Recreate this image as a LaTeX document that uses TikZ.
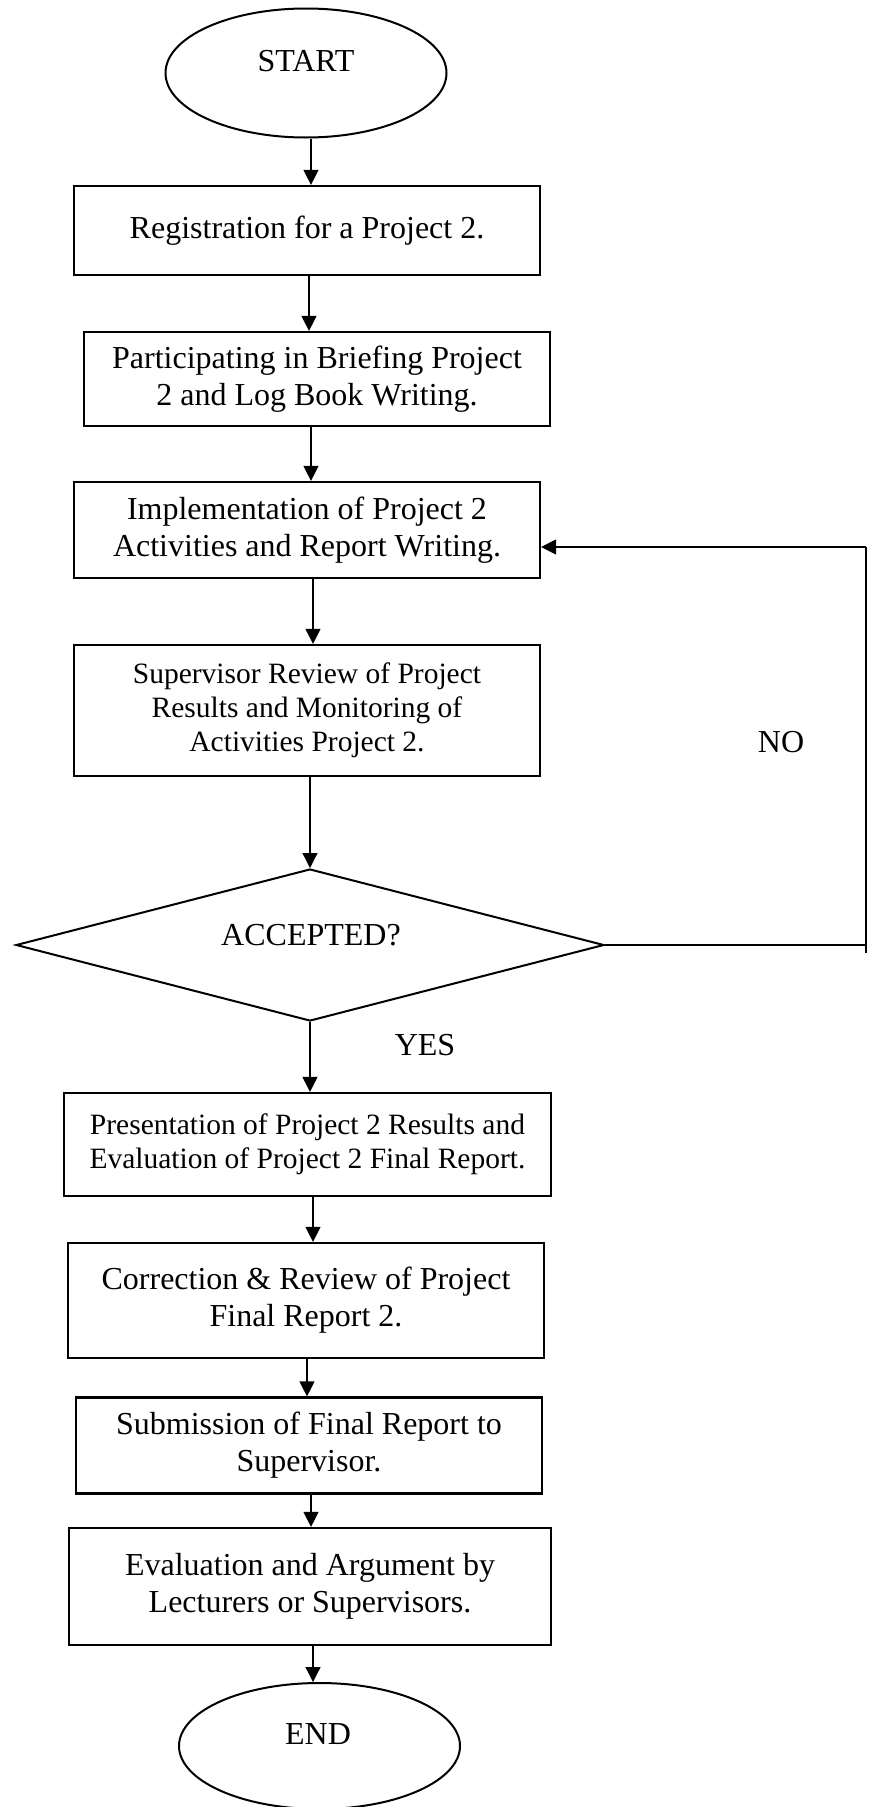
\documentclass[tikz,border=0pt]{standalone}
\usepackage{fontspec}
\setmainfont{Liberation Serif}
\usetikzlibrary{shapes.geometric,arrows.meta}
\begin{document}
\begin{tikzpicture}[x=1pt,y=-1pt,
  box/.style={draw, line width=2.2pt, rectangle, inner sep=0pt, align=center, font=\fontsize{32}{37}\selectfont},
  term/.style={draw, ellipse, line width=2pt, minimum width=281pt, minimum height=129pt, inner sep=0pt},
  decision/.style={draw, diamond, line width=2pt, minimum width=588pt, minimum height=152pt, inner sep=0pt},
  lbl/.style={inner sep=0pt, font=\fontsize{32}{37}\selectfont},
  arr/.style={line width=1.2pt, -{Triangle[length=15pt,width=15pt]}},
  ln/.style={line width=1.2pt}]
\path[use as bounding box, fill=white] (0,0) rectangle (868,1807);

\node[term] (start) at (306,73) {};
\node[lbl] (starttxt) at (306,61) {START};
\node[box, minimum width=466pt, minimum height=89pt] (b1) at (307,230.5) {Registration for a Project 2.};
\node[box, minimum width=466pt, minimum height=94pt] (b2) at (317,379) {Participating in Briefing Project\\2 and Log Book Writing.};
\node[box, minimum width=466pt, minimum height=96pt] (b3) at (307,530) {Implementation of Project 2\\Activities and Report Writing.};
\node[box, minimum width=466pt, minimum height=131pt, font=\fontsize{29.5}{34}\selectfont] (b4) at (307,710.5) {Supervisor Review of Project\\Results and Monitoring of\\Activities Project 2.};
\node[decision] (dia) at (310,945) {};
\node[lbl] (diatxt) at (311,935) {ACCEPTED?};
\node[lbl] (yes) at (425,1045) {YES};
\node[lbl] (no) at (781,742) {NO};
\node[box, minimum width=487pt, minimum height=103pt, font=\fontsize{29.5}{34}\selectfont] (b5) at (307.5,1144.5) {Presentation of Project 2 Results and\\Evaluation of Project 2 Final Report.};
\node[box, minimum width=476pt, minimum height=115pt] (b6) at (306,1300.5) {Correction \& Review of Project\\Final Report 2.};
\node[box, minimum width=466pt, minimum height=96pt] (b7) at (309,1445.5) {Submission of Final Report to\\Supervisor.};
\node[box, minimum width=482pt, minimum height=117pt] (b8) at (310,1586.5) {Evaluation and Argument by\\Lecturers or Supervisors.};
\node[term, minimum height=126pt] (end) at (319.5,1746) {};
\node[lbl] (endtxt) at (318,1734) {END};

\draw[arr] ([xshift=5pt]start.south) -- ([xshift=5pt]start.south |- b1.north);
\draw[arr] ([xshift=2pt]b1.south) -- ([xshift=2pt]b1.south |- b2.north);
\draw[arr] ([xshift=-6pt]b2.south) -- ([xshift=-6pt]b2.south |- b3.north);
\draw[arr] ([xshift=6pt]b3.south) -- ([xshift=6pt]b3.south |- b4.north);
\draw[arr] (dia.north |- b4.south) -- (dia.north);
\draw[arr] (dia.south) -- (dia.south |- b5.north);
\draw[arr] ([xshift=5.5pt]b5.south) -- ([xshift=5.5pt]b5.south |- b6.north);
\draw[arr] ([xshift=1pt]b6.south) -- ([xshift=1pt]b6.south |- b7.north);
\draw[arr] ([xshift=2pt]b7.south) -- ([xshift=2pt]b7.south |- b8.north);
\draw[arr] ([xshift=3pt]b8.south) -- ([xshift=3pt]b8.south |- end.north);

\coordinate (nr) at (866,945);
\coordinate (nt) at (866,547);
\coordinate (nb) at (866,953);
\draw[ln] (dia.east) -- (nr);
\draw[ln] (nb) -- (nt);
\draw[arr] (nt) -- (nt -| b3.east);
\end{tikzpicture}
\end{document}
